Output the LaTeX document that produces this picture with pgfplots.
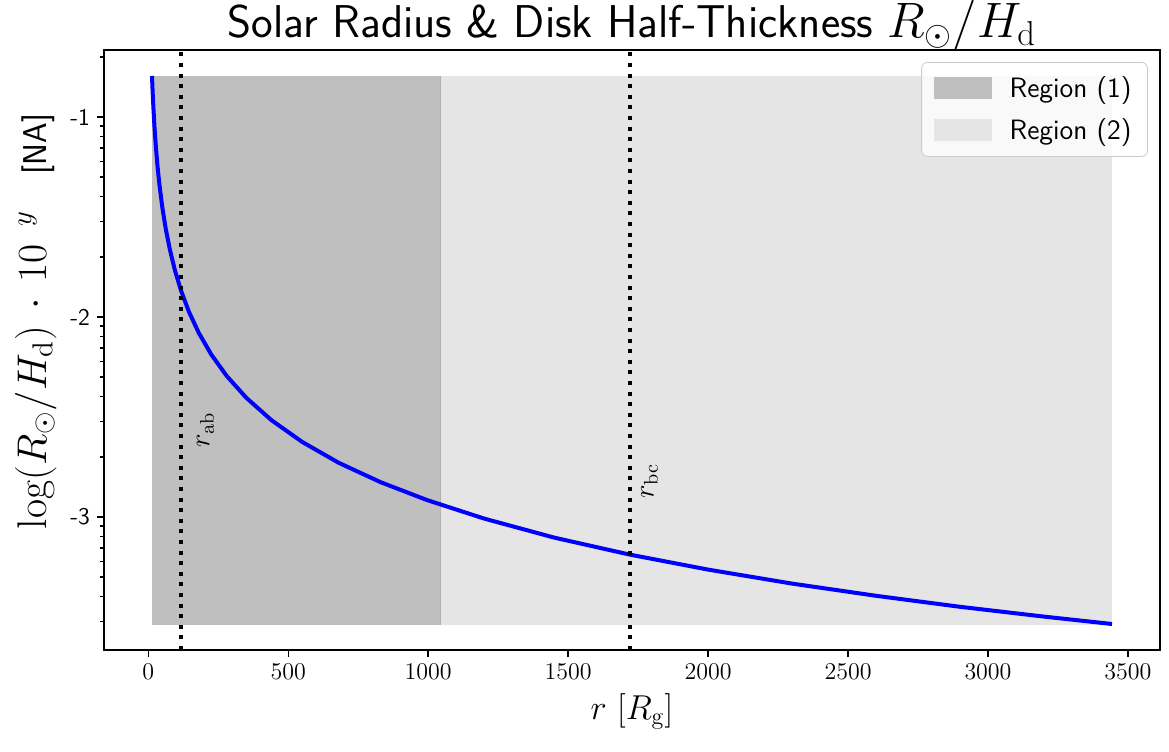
\documentclass[border=0pt]{standalone}
\usepackage{pgfplots}
\pgfplotsset{compat=1.18}

\definecolor{regone}{HTML}{BFBFBF}
\definecolor{regtwo}{HTML}{E5E5E5}
\definecolor{legedge}{HTML}{CCCCCC}

% Solar radius over disk half-thickness, exponent y of log(R_sun/H_d) = 10^y
\pgfplotstableread{
r      y
13     -0.795
15     -0.865
18     -0.954
22     -1.052
27     -1.152
33     -1.250
40     -1.344
50     -1.453
62     -1.558
77     -1.664
95     -1.767
117    -1.869
145    -1.974
180    -2.079
225    -2.188
280    -2.295
350    -2.404
440    -2.516
550    -2.625
680    -2.729
830    -2.826
995    -2.915
1200   -3.008
1450   -3.103
1720   -3.188
2000   -3.263
2300   -3.333
2600   -3.394
2900   -3.449
3200   -3.498
3443   -3.535
}\ratiotable

\begin{document}
\begin{tikzpicture}
\begin{axis}[
  scale only axis,
  width=528pt, height=300pt,
  xmin=-158.5, xmax=3614.5,
  ymin=-3.665, ymax=-0.665,
  axis line style={line width=0.8pt},
  tick style={black, line width=0.8pt},
  major tick length=3.5pt,
  minor tick length=2pt,
  tick align=outside,
  xtick pos=bottom, ytick pos=left,
  xtick={0,500,...,3500},
  xticklabel style={font=\fontsize{12}{12}\selectfont},
  /pgf/number format/1000 sep={},
  ytick={-1,-2,-3},
  yticklabels={-1,-2,-3},
  yticklabel style={font=\sffamily\fontsize{12}{12}\selectfont},
  minor ytick={-0.699,-1.0458,-1.0969,-1.1549,-1.2218,-1.3010,-1.3979,-1.5229,-1.6990,
               -2.0458,-2.0969,-2.1549,-2.2218,-2.3010,-2.3979,-2.5229,-2.6990,
               -3.0458,-3.0969,-3.1549,-3.2218,-3.3010,-3.3979,-3.5229},
  title={Solar Radius \& Disk Half-Thickness $R_\odot/H_\mathrm{d}$},
  title style={font=\sffamily\fontsize{23}{25}\selectfont,
    at={(0.5,1)}, anchor=base, yshift=0pt},
  xlabel={$r\ [R_\mathrm{g}]$},
  xlabel style={font=\fontsize{17}{17}\selectfont},
  ylabel={{\fontsize{22}{22}\selectfont$\log(R_\odot/H_\mathrm{d})\mskip3mu\cdot\mskip3mu 10^{\hspace{9pt}y}$}\hspace{18pt}{\sffamily\fontsize{16.5}{16.5}\selectfont[NA]}},
  ylabel style={at={(ticklabel cs:0.5475)}},
  legend style={at={(rel axis cs:0.9886,0.98)}, anchor=north east,
    draw=legedge, rounded corners=3pt, fill=white, fill opacity=0.8,
    text opacity=1, font=\sffamily\fontsize{14}{16}\selectfont,
    inner xsep=6pt, inner ysep=5pt, row sep=5pt},
  legend cell align=left,
  legend image code/.code={
    \fill[#1, fill opacity=1, sharp corners] (0pt,-5.5pt) rectangle (29pt,5.5pt);
    \path (36pt,0pt);},
  clip=false,
]
% shaded regions spanning the data range of the curve
\addplot[fill=regone, draw=none] coordinates
  {(13,-3.539) (1044,-3.539) (1044,-0.794) (13,-0.794)} -- cycle;
\addlegendentry{Region (1)}
\addplot[fill=regtwo, draw=none] coordinates
  {(1044,-3.539) (3443,-3.539) (3443,-0.794) (1044,-0.794)} -- cycle;
\addlegendentry{Region (2)}
\addplot[draw=black!8!regone, line width=0.6pt, forget plot] coordinates
  {(1044,-3.539) (1044,-0.794)};

% the ratio itself
\addplot[blue, line width=2pt, forget plot] table[x=r, y=y] {\ratiotable};

% characteristic radii
\addplot[black, line width=2pt, dash pattern=on 2pt off 3.3pt, forget plot]
  coordinates {(117,-3.665) (117,-0.665)};
\addplot[black, line width=2pt, dash pattern=on 2pt off 3.3pt, forget plot]
  coordinates {(1721,-3.665) (1721,-0.665)};
\node[rotate=90, font=\fontsize{14}{14}\selectfont] at (axis cs:204,-2.566) {$r_\mathrm{ab}$};
\node[rotate=90, font=\fontsize{14}{14}\selectfont] at (axis cs:1791,-2.820) {$r_\mathrm{bc}$};
\end{axis}
\pgfresetboundingbox
\path[use as bounding box]
  ([shift={(-52pt,-50.5pt)}]current axis.south west) rectangle
  ([shift={(4.5pt,25pt)}]current axis.north east);
\end{tikzpicture}
\end{document}
